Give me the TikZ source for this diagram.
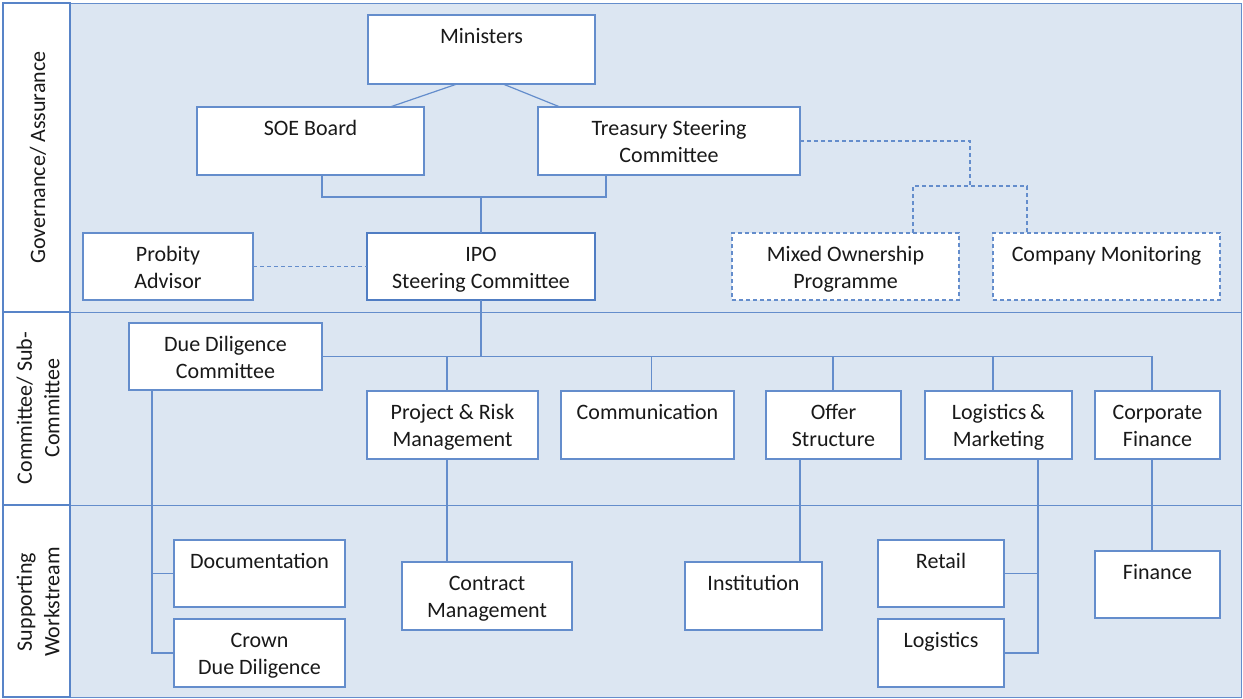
\documentclass[tikz,border=0pt]{standalone}
\usepackage{fontspec}
\setmainfont{Carlito}
\definecolor{bg}{RGB}{220,230,242}
\definecolor{ln}{RGB}{100,141,204}
\definecolor{fr}{RGB}{88,132,200}
\definecolor{ipo}{RGB}{80,125,195}
\begin{document}
\begin{tikzpicture}[x=1pt,y=-1pt,
  font=\fontsize{22}{27.5}\selectfont,
  box/.style={draw=ln, fill=white, line width=1.2pt, inner sep=0pt, outer sep=0pt},
  dbox/.style={box, dash pattern=on 4pt off 3pt},
  lbl/.style={anchor=north, yshift=-8.75pt, inner sep=0pt, align=center, text=black!90},
  conn/.style={draw=ln, line width=1.2pt},
  dconn/.style={conn, dash pattern=on 4pt off 3pt},
  colframe/.style={draw=fr, fill=white, line width=2pt},
  rowframe/.style={draw=ln, line width=1pt},
  rot/.style={rotate=90, align=center, inner sep=0pt, text=black!90}]
\useasboundingbox (0,0) rectangle (1243,699);
% background rows
\fill[bg] (70,3) rectangle (1241,697);
\draw[rowframe] (70,3) rectangle (1241,697);
\draw[rowframe] (70,312) -- (1241,312);
\draw[rowframe] (70,505) -- (1241,505);
% left column
\draw[colframe] (3,3) rectangle (70,312);
\draw[colframe] (3,312) rectangle (70,505);
\draw[colframe] (3,505) rectangle (70,697);
\node[rot] (tA) at (38,157.5) {Governance/ Assurance};
\node[rot] (tB) at (38,408) {Committee/ Sub-\\Committee};
\node[rot] (tC) at (38,602) {Supporting\\Workstream};
% boxes
\node[box, minimum width=227, minimum height=69, label={[lbl]north:{\strut Ministers}}] (mins) at (481.5,49.5) {};
\node[box, minimum width=227, minimum height=68, label={[lbl]north:{\strut SOE Board}}] (soe) at (310.5,141) {};
\node[box, minimum width=262, minimum height=68, label={[lbl]north:{\strut Treasury Steering\\Committee}}] (tsc) at (669,141) {};
\node[box, minimum width=170, minimum height=67, label={[lbl]north:{\strut Probity\\Advisor}}] (prob) at (168,266.5) {};
\node[box, draw=ipo, line width=2.6pt, minimum width=228, minimum height=67, label={[lbl]north:{\strut IPO\\Steering Committee}}] (ipo) at (481,266.5) {};
\node[dbox, minimum width=227, minimum height=67, label={[lbl]north:{\strut Mixed Ownership\\Programme}}] (mop) at (845.5,266.5) {};
\node[dbox, minimum width=227, minimum height=67, label={[lbl]north:{\strut Company Monitoring}}] (cm) at (1106.5,266.5) {};
\node[box, minimum width=193, minimum height=67, label={[lbl]north:{\strut Due Diligence\\Committee}}] (ddc) at (225.5,356.5) {};
\node[box, minimum width=171, minimum height=68, label={[lbl]north:{\strut Project \& Risk\\Management}}] (prm) at (452.5,425) {};
\node[box, minimum width=173, minimum height=68, label={[lbl]north:{\strut Communication}}] (comm) at (647.5,425) {};
\node[box, minimum width=135, minimum height=68, label={[lbl]north:{\strut Offer\\Structure}}] (offer) at (833.5,425) {};
\node[box, minimum width=147, minimum height=68, label={[lbl]north:{\strut Logistics\,\&\\Marketing}}] (lm) at (998.5,425) {};
\node[box, minimum width=125, minimum height=68, label={[lbl]north:{\strut Corporate\\Finance}}] (cf) at (1157.5,425) {};
\node[box, minimum width=171, minimum height=67, label={[lbl]north:{\strut Documentation}}] (doc) at (259.5,573.5) {};
\node[box, minimum width=171, minimum height=68, label={[lbl]north:{\strut Crown\\Due Diligence}}] (crown) at (259.5,653) {};
\node[box, minimum width=170, minimum height=68, label={[lbl]north:{\strut Contract\\Management}}] (contract) at (487,596) {};
\node[box, minimum width=137, minimum height=68, label={[lbl]north:{\strut Institution}}] (inst) at (753.5,596) {};
\node[box, minimum width=126, minimum height=67, label={[lbl]north:{\strut Retail}}] (retail) at (941,573.5) {};
\node[box, minimum width=126, minimum height=68, label={[lbl]north:{\strut Logistics}}] (logi) at (941,653) {};
\node[box, minimum width=125, minimum height=67, label={[lbl]north:{\strut Finance}}] (fin) at (1157.5,584.5) {};
% connectors
\begin{scope}[on background layer/.style={}]
\draw[conn] ([xshift=-24.5pt]mins.south) -- ([xshift=79.5pt]soe.north);
\draw[conn] ([xshift=21.5pt]mins.south) -- ([xshift=-109pt]tsc.north);
\coordinate (j1) at (481,197);
\draw[conn] ([xshift=11.5pt]soe.south) |- (j1) -| ([xshift=-63pt]tsc.south);
\draw[conn] (ipo.north) -- (j1);
\draw[dconn] (prob.east) -- (ipo.west);
\coordinate (j2) at (970,186);
\draw[dconn] (tsc.east) -| (j2);
\draw[dconn] ([xshift=67.5pt]mop.north) |- (j2) -| ([xshift=-79.5pt]cm.north);
\draw[conn] (ipo.south) -- (ipo.south |- ddc.east);
\draw[conn] (ddc.east) -| ([xshift=-5.5pt]cf.north);
\draw[conn] ([xshift=-5.5pt]prm.north) -- ([xshift=-5.5pt]prm.north |- ddc.east);
\draw[conn] ([xshift=4pt]comm.north) -- ([xshift=4pt]comm.north |- ddc.east);
\draw[conn] ([xshift=-0.5pt]offer.north) -- ([xshift=-0.5pt]offer.north |- ddc.east);
\draw[conn] ([xshift=-5.5pt]lm.north) -- ([xshift=-5.5pt]lm.north |- ddc.east);
\coordinate (dv) at ([xshift=-73.5pt]ddc.south);
\draw[conn] (dv) |- (crown.west);
\draw[conn] (doc.west) -- (doc.west -| dv);
\draw[conn] ([xshift=-5.5pt]prm.south) -- ([xshift=-40pt]contract.north);
\draw[conn] ([xshift=-33.5pt]offer.south) -- ([xshift=46.5pt]inst.north);
\coordinate (lv) at ([xshift=39.5pt]lm.south);
\draw[conn] (lv) |- (logi.east);
\draw[conn] (retail.east) -- (retail.east -| lv);
\draw[conn] ([xshift=-5.5pt]cf.south) -- ([xshift=-5.5pt]fin.north);
\end{scope}
\end{tikzpicture}
\end{document}
